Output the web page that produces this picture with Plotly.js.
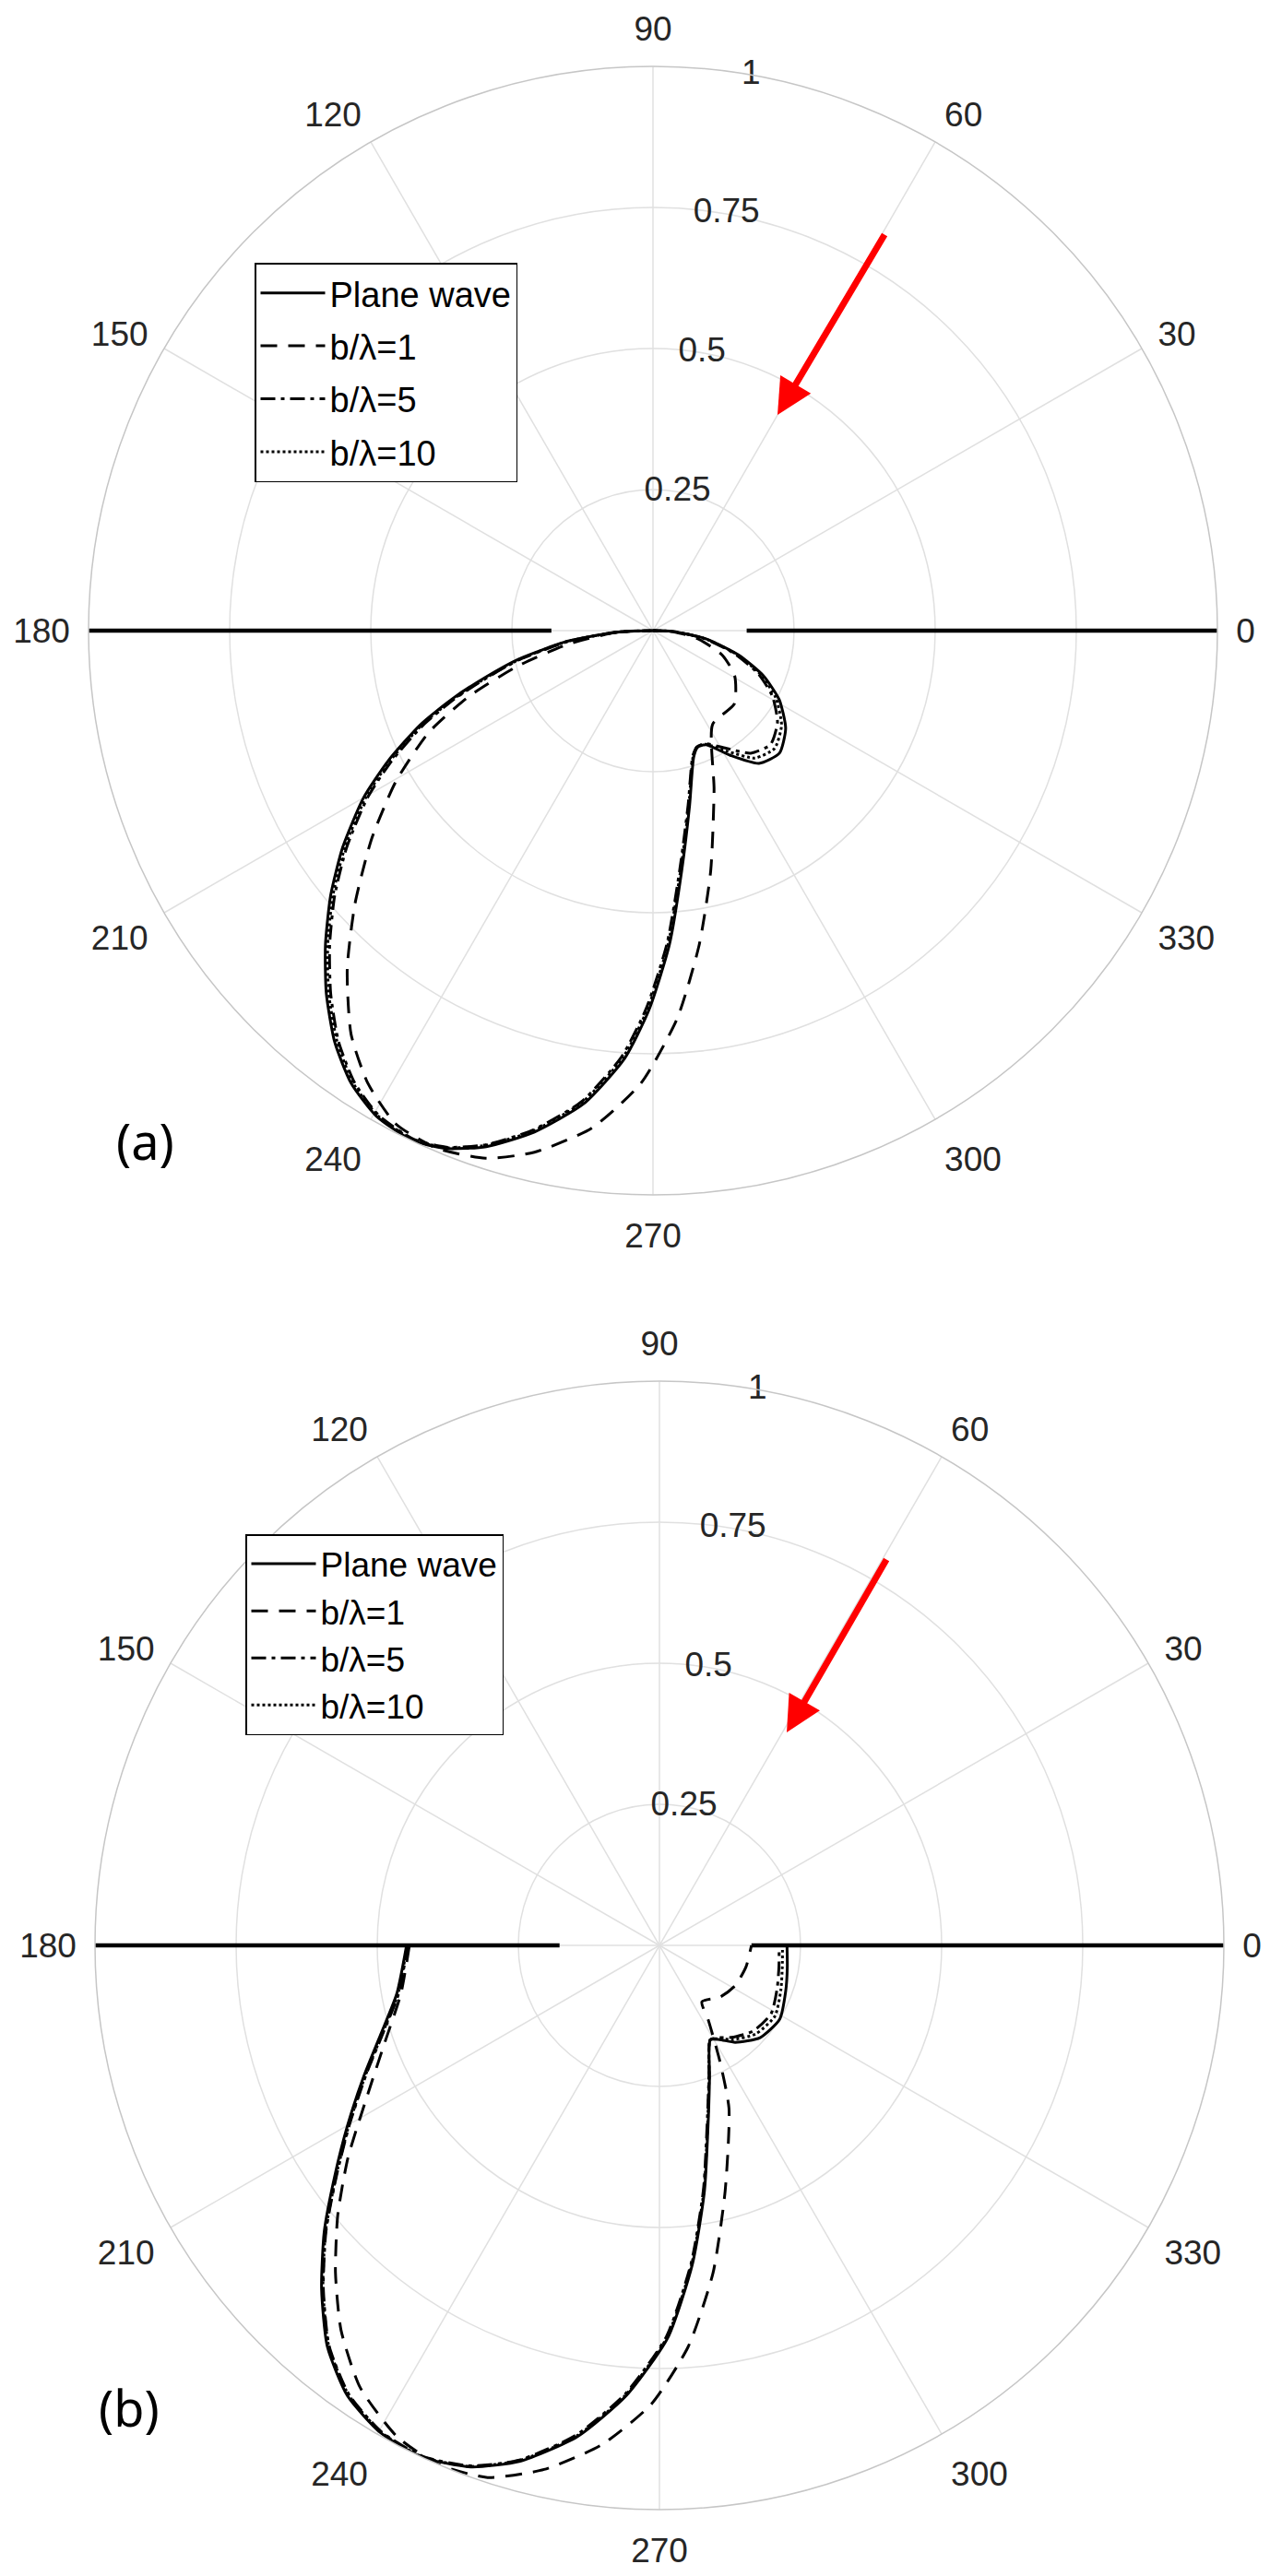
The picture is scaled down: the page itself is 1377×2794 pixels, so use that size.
<!DOCTYPE html>
<html>
<head>
<meta charset="utf-8">
<script src="https://cdn.plot.ly/plotly-3.0.1.min.js"></script>
<style>
html,body{margin:0;padding:0;background:#ffffff;}
#chart{width:1377px;height:2794px;}
</style>
</head>
<body>
<div id="chart"></div>
<script>
// ---------- tick labels ----------
const angleTickVals = [0,30,60,90,120,150,180,210,240,270,300,330];
const angleTickText = ['0','30','60','90','120','150','180','210','240','270','300','330'];
const radialTickVals = [0.25,0.5,0.75,1];
const radialTickText = ['0.25','0.5','0.75','1'];
const radialLabelAngle = [80,80,80,80];
const seriesNames = ['Plane wave','b/\u03bb=1','b/\u03bb=5','b/\u03bb=10'];
const panelLabels = ['(a)','(b)'];

// ---------- panel (a) ----------
// straight segments along 0 and 180 degrees
const a_seg_theta = [0,0,null,180,180];
const a_seg_r     = [1,0.166,null,1,0.18];

const a_plane_theta = [180,182.5,187.1,192.0,195.5,198.7,202.0,206.2,210.0,214.9,219.4,223.8,228.0,232.3,236.3,240.3,244.7,248.1,252.1,256.7,261.7,266.2,269.4,273.0,276.8,281.8,287.9,291.0,294.9,301.8,308.6,315.9,323.6,331.3,337.8,344.1,351.3,357.7,360];
const a_plane_r     = [0,0.065,0.153,0.244,0.307,0.374,0.444,0.523,0.592,0.670,0.739,0.804,0.865,0.922,0.964,0.990,0.999,0.989,0.961,0.913,0.847,0.760,0.672,0.557,0.429,0.317,0.235,0.221,0.223,0.260,0.301,0.312,0.292,0.255,0.211,0.158,0.095,0.036,0];

const a_b1_theta = [180,182.7,189.2,194.6,199.6,204.4,210.4,216.5,222.5,227.9,233.2,237.8,242.5,247.3,252.4,257.2,263.0,268.5,273.6,278.4,283.5,291.0,302.4,318.0,331.2,340.6,349.7,357.0,360];
const a_b1_r     = [0,0.065,0.154,0.246,0.345,0.436,0.528,0.620,0.716,0.808,0.893,0.948,0.986,0.994,0.981,0.948,0.888,0.802,0.688,0.562,0.438,0.302,0.197,0.194,0.165,0.130,0.081,0.036,0];

const a_b5_theta = [180,182.5,187.3,192.3,195.8,199.0,202.4,206.6,210.4,215.3,219.8,224.2,228.4,232.6,236.6,240.5,244.8,248.2,252.0,256.5,261.4,265.8,269.0,272.6,276.4,281.4,287.6,290.8,294.9,301.8,308.6,315.9,323.6,331.3,337.8,344.1,351.3,357.7,360];
const a_b5_r     = [0,0.065,0.152,0.243,0.305,0.372,0.441,0.519,0.587,0.665,0.734,0.799,0.860,0.917,0.960,0.987,0.996,0.986,0.958,0.910,0.844,0.757,0.669,0.554,0.426,0.315,0.233,0.220,0.221,0.245,0.278,0.290,0.274,0.241,0.201,0.151,0.091,0.035,0];

const a_b10_theta = [180,182.5,187.2,192.2,195.7,198.9,202.2,206.4,210.2,215.1,219.6,224.0,228.2,232.5,236.5,240.4,244.7,248.2,252.0,256.6,261.5,266.0,269.2,272.8,276.6,281.6,287.7,290.9,294.9,301.8,308.6,315.9,323.6,331.3,337.8,344.1,351.3,357.7,360];
const a_b10_r     = [0,0.065,0.153,0.243,0.306,0.373,0.442,0.521,0.589,0.667,0.736,0.801,0.862,0.919,0.962,0.988,0.997,0.987,0.959,0.911,0.845,0.758,0.670,0.555,0.427,0.316,0.234,0.220,0.222,0.252,0.289,0.300,0.283,0.248,0.206,0.155,0.093,0.035,0];

// ---------- panel (b) ----------
const b_seg_theta = [0,0,null,180,180];
const b_seg_r     = [1,0.163,null,1,0.177];

const b_plane_theta = [180,190.4,197.8,203.8,210.0,215.2,220.5,225.5,230.4,235.3,240.2,245.1,250.1,254.9,260.5,265.8,271.2,275.9,280.4,286.8,290.9,298.3,302.5,308.0,317.5,328.5,340.0,350.0,360];
const b_plane_r     = [0.448,0.473,0.519,0.572,0.638,0.703,0.781,0.854,0.923,0.971,0.995,1.000,0.983,0.947,0.883,0.800,0.696,0.568,0.442,0.302,0.249,0.190,0.198,0.218,0.242,0.250,0.238,0.230,0.226];

const b_b1_theta = [180,190.6,199.6,207.8,214.3,220.0,225.3,230.4,235.9,241.9,246.9,252.1,257.6,263.4,269.0,274.1,279.3,285.0,293.1,297.5,303.0,307.0,319.3,332.0,346.0,360];
const b_b1_r     = [0.443,0.466,0.517,0.588,0.668,0.744,0.816,0.885,0.946,0.987,1.000,0.991,0.951,0.891,0.813,0.713,0.588,0.450,0.314,0.232,0.160,0.125,0.141,0.152,0.158,0.163];

const b_b5_theta = [180,190.5,197.9,203.9,210.1,215.3,220.6,225.6,230.5,235.4,240.3,245.2,250.1,254.8,260.3,265.6,271.0,275.7,280.2,286.6,290.8,298.3,302.5,308.0,317.5,328.5,340.0,350.0,360];
const b_b5_r     = [0.446,0.470,0.516,0.569,0.635,0.700,0.778,0.851,0.920,0.968,0.993,0.998,0.981,0.945,0.881,0.798,0.694,0.566,0.440,0.300,0.247,0.190,0.194,0.207,0.225,0.232,0.222,0.215,0.212];

const b_b10_theta = [180,190.5,197.9,203.9,210.1,215.3,220.6,225.6,230.5,235.4,240.3,245.2,250.1,254.8,260.4,265.7,271.1,275.8,280.3,286.7,290.8,298.3,302.5,308.0,317.5,328.5,340.0,350.0,360];
const b_b10_r     = [0.447,0.471,0.517,0.570,0.636,0.701,0.779,0.852,0.921,0.969,0.994,0.999,0.982,0.946,0.882,0.799,0.695,0.567,0.441,0.301,0.248,0.190,0.196,0.212,0.232,0.240,0.229,0.221,0.218];

// ---------- styling ----------
const dashes = ['solid','18px,12px','16px,6px,4px,6px','3px,3px'];
const lineW = 3;
const tickFont = {family:'Liberation Sans, Arial, sans-serif', size:37, color:'#262626'};

const traces = [];
function addSeries(subplot, legendId, grp, name, dash, th, rr){
  traces.push({
    type:'scatterpolar', mode:'lines', subplot:subplot, legend:legendId,
    legendgroup:grp, name:name, theta:th, r:rr,
    line:{color:'#000000', width:lineW, dash:dash, shape:'spline', smoothing:0.6},
    hoverinfo:'skip'
  });
}
function addSegments(subplot, th, rr){
  traces.push({
    type:'scatterpolar', mode:'lines', subplot:subplot, showlegend:false,
    theta:th, r:rr, line:{color:'#000000', width:4.5}, hoverinfo:'skip'
  });
}

// panel a
addSegments('polar', a_seg_theta, a_seg_r);
addSeries('polar','legend','a0',seriesNames[0],dashes[0], a_plane_theta, a_plane_r);
addSeries('polar','legend','a1',seriesNames[1],dashes[1], a_b1_theta, a_b1_r);
addSeries('polar','legend','a2',seriesNames[2],dashes[2], a_b5_theta, a_b5_r);
addSeries('polar','legend','a3',seriesNames[3],dashes[3], a_b10_theta, a_b10_r);

// panel b
addSegments('polar2', b_seg_theta, b_seg_r);
addSeries('polar2','legend2','b0',seriesNames[0],dashes[0], b_plane_theta, b_plane_r);
addSeries('polar2','legend2','b1',seriesNames[1],dashes[1], b_b1_theta, b_b1_r);
addSeries('polar2','legend2','b2',seriesNames[2],dashes[2], b_b5_theta, b_b5_r);
addSeries('polar2','legend2','b3',seriesNames[3],dashes[3], b_b10_theta, b_b10_r);

// radial tick labels drawn on the 80 degree ray
['polar','polar2'].forEach(function(sp){
  traces.push({
    type:'scatterpolar', mode:'text', subplot:sp, showlegend:false,
    r:radialTickVals, theta:radialLabelAngle, text:radialTickText,
    textposition:'middle center', textfont:tickFont, cliponaxis:false, hoverinfo:'skip'
  });
});

function polarLayout(dx, dy){
  return {
    domain:{x:dx, y:dy},
    bgcolor:'#ffffff',
    radialaxis:{range:[0,1], tickmode:'array', tickvals:radialTickVals, showticklabels:false,
      ticks:'', showline:false, gridcolor:'#e0e0e0', gridwidth:1.5},
    angularaxis:{tickmode:'array', tickvals:angleTickVals, ticktext:angleTickText, ticksuffix:'',
      direction:'counterclockwise', rotation:0, ticks:'outside', ticklen:12, tickcolor:'rgba(0,0,0,0)',
      tickfont:tickFont, showline:true, linecolor:'#c6c6c6', linewidth:1.5,
      gridcolor:'#e0e0e0', gridwidth:1.5}
  };
}

function legendLayout(x, y, gap, size){
  return {x:x, y:y, xanchor:'left', yanchor:'top', bgcolor:'#ffffff', bordercolor:'#000000',
    borderwidth:1.5, font:{family:'Liberation Sans, Arial, sans-serif', size:size, color:'#000000'},
    tracegroupgap:gap, itemwidth:70, traceorder:'grouped'};
}

const layout = {
  width:1377, height:2794,
  margin:{l:0,r:0,t:0,b:0},
  paper_bgcolor:'#ffffff',
  showlegend:true,
  hovermode:false,
  polar: polarLayout([96/1377, 1320/1377], [1-1296/2794, 1-72/2794]),
  polar2: polarLayout([103/1377, 1327/1377], [1-2722/2794, 1-1498/2794]),
  legend: legendLayout(276/1377, 1-285/2794, 5, 38),
  legend2: legendLayout(266/1377, 1-1664/2794, 0, 37),
  annotations:[
    {xref:'paper', yref:'paper', x:843/1377, y:1-450/2794, ax:117, ay:-197, text:'', showarrow:true,
      arrowcolor:'#ff0000', arrowwidth:7, arrowhead:2, arrowsize:1.1, standoff:0},
    {xref:'paper', yref:'paper', x:853/1377, y:1-1879/2794, ax:109, ay:-189, text:'', showarrow:true,
      arrowcolor:'#ff0000', arrowwidth:7, arrowhead:2, arrowsize:1.1, standoff:0},
    {xref:'paper', yref:'paper', x:124/1377, y:1-1237/2794, text:panelLabels[0], showarrow:false,
      font:{family:'Noto Sans, Open Sans, sans-serif', size:54, color:'#000000'}},
    {xref:'paper', yref:'paper', x:105/1377, y:1-2650/2794, text:panelLabels[1], showarrow:false,
      font:{family:'Noto Sans, Open Sans, sans-serif', size:54, color:'#000000'}}
  ]
};

Plotly.newPlot('chart', traces, layout, {displayModeBar:false, staticPlot:true});
</script>
</body>
</html>
